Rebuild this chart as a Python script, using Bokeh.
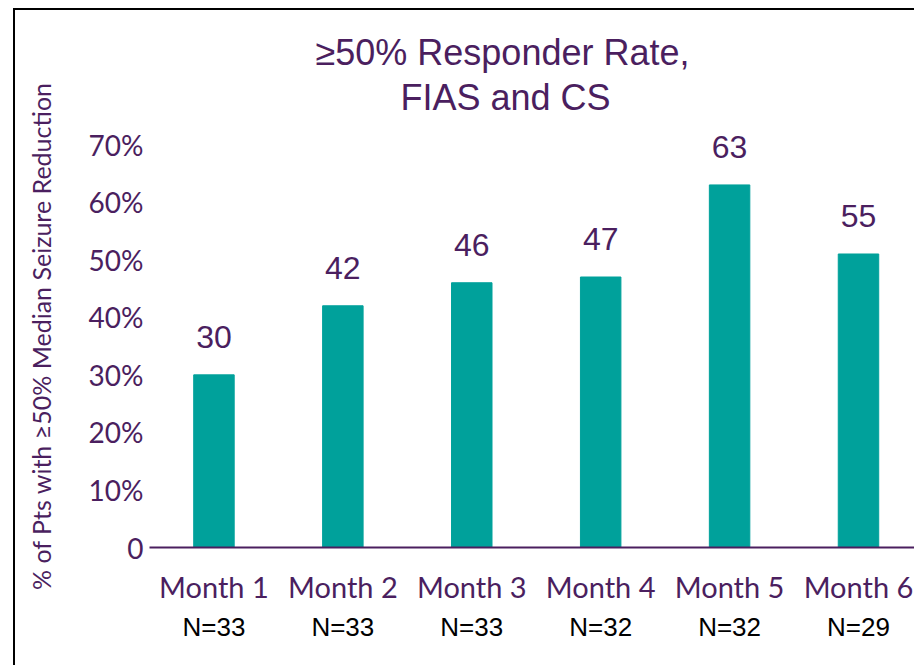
from bokeh.plotting import figure
from bokeh.models import (Range1d, FixedTicker, LinearAxis, LabelSet, Title,
                          ColumnDataSource)
from bokeh.core.properties import value
from bokeh.embed import file_html
from bokeh.resources import INLINE

# ---- data ----
categories = ["Month 1", "Month 2", "Month 3", "Month 4", "Month 5", "Month 6"]
n_labels = ["N=33", "N=33", "N=33", "N=32", "N=32", "N=29"]
bar_values = [30, 42, 46, 47, 63, 51]
value_labels = ["30", "42", "46", "47", "63", "55"]
y_ticks = [0, 10, 20, 30, 40, 50, 60, 70]
y_tick_labels = ["0", "10%", "20%", "30%", "40%", "50%", "60%", "70%"]
title_lines = ["\u226550% Responder Rate,", "FIAS and CS"]
y_title = "% of Pts with \u226550% Median Seizure Reduction"

PURPLE = "#4b1f5f"
TEAL = "#00a19b"
W, H = 901, 657

xpos = list(range(1, len(categories) + 1))

p = figure(width=W, height=H, output_backend="svg", toolbar_location=None,
           x_range=Range1d(0.5, 6.45), y_range=Range1d(0, 73.5),
           min_border_left=134, min_border_right=0, min_border_top=114,
           min_border_bottom=120)
p.styles = {"margin-left": "13px", "margin-top": "8px",
            "border-left": "2px solid black", "border-top": "2px solid black"}
p.outline_line_color = None
p.grid.visible = False
p.background_fill_color = "white"
p.border_fill_color = "white"

src = ColumnDataSource(dict(x=xpos, top=bar_values, label=value_labels))
p.vbar(x="x", top="top", width=0.314, color=TEAL, source=src)

# title: p.title is the outer line, the added Title sits next to the frame
p.title = Title(text=title_lines[0], align="left", offset=166,
                text_font="Liberation Sans", text_font_size="36px",
                text_font_style="normal", text_color=PURPLE, standoff=-10)
p.add_layout(Title(text=title_lines[1], align="left", offset=251,
                   text_font="Liberation Sans", text_font_size="36px",
                   text_font_style="normal", text_color=PURPLE, standoff=14),
             "above")

# y axis
ya = p.yaxis[0]
ya.ticker = FixedTicker(ticks=y_ticks)
ya.major_label_overrides = {t: l for t, l in zip(y_ticks, y_tick_labels)}
ya.axis_line_color = None
ya.major_tick_line_color = None
ya.minor_tick_line_color = None
ya.major_tick_out = 0
ya.major_tick_in = 0
ya.major_label_standoff = 6
ya.major_label_text_font = "Lato"
ya.major_label_text_font_size = "28px"
ya.major_label_text_color = PURPLE
ya.axis_label = y_title
ya.axis_label_standoff = 30
ya.axis_label_text_font = "Lato"
ya.axis_label_text_font_size = "25px"
ya.axis_label_text_font_style = "normal"
ya.axis_label_text_color = PURPLE

# x axis (month labels)
xa = p.xaxis[0]
xa.ticker = FixedTicker(ticks=xpos)
xa.major_label_overrides = {i: c for i, c in zip(xpos, categories)}
xa.axis_line_color = PURPLE
xa.axis_line_width = 2
xa.major_tick_line_color = None
xa.minor_tick_line_color = None
xa.major_tick_out = 0
xa.major_tick_in = 0
xa.major_label_standoff = 21
xa.major_label_text_font = "Lato"
xa.major_label_text_font_size = "29px"
xa.major_label_text_color = PURPLE

# second x axis (N labels)
xa2 = LinearAxis(ticker=FixedTicker(ticks=xpos),
                 major_label_overrides={i: n for i, n in zip(xpos, n_labels)})
xa2.axis_line_color = None
xa2.major_tick_line_color = None
xa2.minor_tick_line_color = None
xa2.major_tick_out = 0
xa2.major_tick_in = 0
xa2.major_label_standoff = 5
xa2.major_label_text_font = "Liberation Sans"
xa2.major_label_text_font_size = "26px"
xa2.major_label_text_color = "black"
p.add_layout(xa2, "below")

# value labels
p.add_layout(LabelSet(x="x", y="top", text="label", source=src,
                      text_align="center", text_baseline="alphabetic",
                      y_offset=27, text_font=value("Liberation Sans"),
                      text_font_size="32px", text_color=PURPLE))

open("out.html", "w").write(file_html(p, INLINE))
